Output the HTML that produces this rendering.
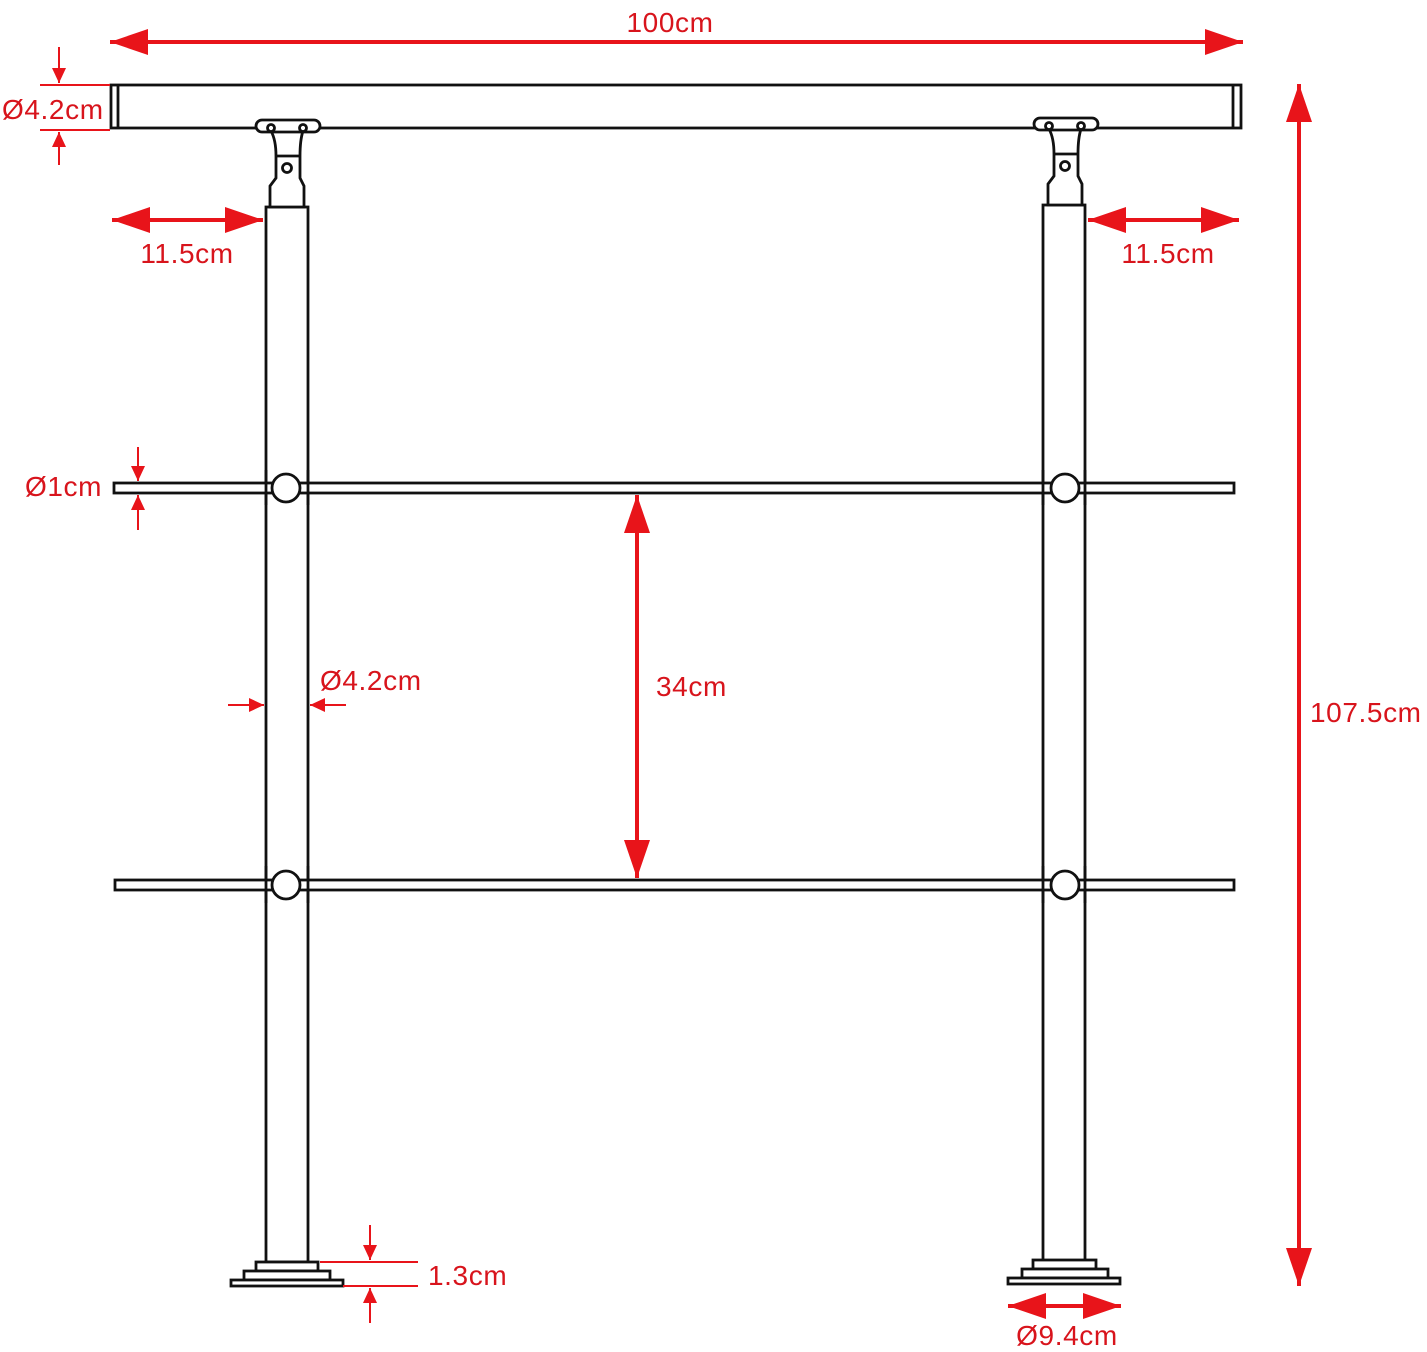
<!DOCTYPE html>
<html><head><meta charset="utf-8"><style>
html,body{margin:0;padding:0;background:#fff;}
svg{display:block;}
text{font-family:"Liberation Sans",sans-serif;fill:#d8141c;font-size:28px;letter-spacing:0.6px;}
</style></head><body>
<svg width="1427" height="1352" viewBox="0 0 1427 1352" xmlns="http://www.w3.org/2000/svg">
<defs>
<marker id="big" markerUnits="userSpaceOnUse" markerWidth="40" markerHeight="26" refX="38" refY="13" orient="auto-start-reverse"><path d="M0,0 L38,13 L0,26 Z" fill="#e8141a"/></marker>
<marker id="sm" markerUnits="userSpaceOnUse" markerWidth="16" markerHeight="14" refX="15" refY="7" orient="auto-start-reverse"><path d="M0,0 L15,7 L0,14 Z" fill="#e8141a"/></marker>
</defs>
<g fill="#fff" stroke="#111" stroke-width="2.8">
<rect x="111" y="85" width="1130" height="43"/>
<line x1="118" y1="85" x2="118" y2="128"/>
<line x1="1233" y1="85" x2="1233" y2="128"/>
<rect x="266" y="207" width="42" height="1055"/>
<rect x="1043" y="205" width="42" height="1057"/>
<rect x="114" y="483" width="1120" height="10"/>
<rect x="115" y="880" width="1119" height="10"/>
<line x1="266" y1="470" x2="266" y2="505"/><line x1="308" y1="470" x2="308" y2="505"/>
<line x1="1043" y1="470" x2="1043" y2="505"/><line x1="1085" y1="470" x2="1085" y2="505"/>
<line x1="266" y1="866" x2="266" y2="903"/><line x1="308" y1="866" x2="308" y2="903"/>
<line x1="1043" y1="866" x2="1043" y2="903"/><line x1="1085" y1="866" x2="1085" y2="903"/>
<circle cx="286" cy="488" r="14"/><circle cx="1065" cy="488" r="14"/>
<circle cx="286" cy="885" r="14"/><circle cx="1065" cy="885" r="14"/>
<g>
<path d="M271,131 Q276,140 276,156 L276,178 L270,186 L270,207 L304,207 L304,186 L300,178 L300,156 Q300,140 303,131 Z"/>
<line x1="276" y1="156" x2="300" y2="156"/>
<circle cx="287" cy="168" r="4.5"/>
<rect x="256" y="120" width="64" height="12" rx="6"/>
<circle cx="271" cy="128" r="3.5"/><circle cx="303" cy="128" r="3.5"/>
</g>
<g transform="translate(778,-2)">
<path d="M271,131 Q276,140 276,156 L276,178 L270,186 L270,207 L304,207 L304,186 L300,178 L300,156 Q300,140 303,131 Z"/>
<line x1="276" y1="156" x2="300" y2="156"/>
<circle cx="287" cy="168" r="4.5"/>
<rect x="256" y="120" width="64" height="12" rx="6"/>
<circle cx="271" cy="128" r="3.5"/><circle cx="303" cy="128" r="3.5"/>
</g>
<rect x="256" y="1262" width="62" height="9"/>
<rect x="244" y="1271" width="86" height="9"/>
<rect x="231" y="1280" width="112" height="6"/>
<rect x="1033" y="1260" width="63" height="9"/>
<rect x="1022" y="1269" width="86" height="9"/>
<rect x="1008" y="1278" width="112" height="6"/>
</g>
<g stroke="#e8141a" fill="none">
<line x1="110" y1="42" x2="1243" y2="42" stroke-width="4" marker-start="url(#big)" marker-end="url(#big)"/>
<line x1="1299" y1="84" x2="1299" y2="1286" stroke-width="4" marker-start="url(#big)" marker-end="url(#big)"/>
<line x1="112" y1="220" x2="263" y2="220" stroke-width="4" marker-start="url(#big)" marker-end="url(#big)"/>
<line x1="1088" y1="220" x2="1239" y2="220" stroke-width="4" marker-start="url(#big)" marker-end="url(#big)"/>
<line x1="637" y1="495" x2="637" y2="878" stroke-width="4" marker-start="url(#big)" marker-end="url(#big)"/>
<line x1="1008" y1="1306" x2="1121" y2="1306" stroke-width="4" marker-start="url(#big)" marker-end="url(#big)"/>
<g stroke-width="2">
<line x1="40" y1="85" x2="110" y2="85"/><line x1="40" y1="130" x2="110" y2="130"/>
<line x1="59" y1="47" x2="59" y2="83" marker-end="url(#sm)"/>
<line x1="59" y1="165" x2="59" y2="132" marker-end="url(#sm)"/>
<line x1="138" y1="447" x2="138" y2="481" marker-end="url(#sm)"/>
<line x1="138" y1="530" x2="138" y2="495" marker-end="url(#sm)"/>
<line x1="228" y1="705" x2="264" y2="705" marker-end="url(#sm)"/>
<line x1="346" y1="705" x2="310" y2="705" marker-end="url(#sm)"/>
<line x1="320" y1="1262" x2="418" y2="1262"/><line x1="343" y1="1286" x2="418" y2="1286"/>
<line x1="370" y1="1225" x2="370" y2="1260" marker-end="url(#sm)"/>
<line x1="370" y1="1323" x2="370" y2="1288" marker-end="url(#sm)"/>
</g>
</g>
<text x="670" y="32" text-anchor="middle">100cm</text>
<text x="2" y="119">Ø4.2cm</text>
<text x="187" y="263" text-anchor="middle">11.5cm</text>
<text x="1168" y="263" text-anchor="middle">11.5cm</text>
<text x="25" y="496">Ø1cm</text>
<text x="320" y="690">Ø4.2cm</text>
<text x="656" y="696">34cm</text>
<text x="1310" y="722">107.5cm</text>
<text x="428" y="1285">1.3cm</text>
<text x="1067" y="1345" text-anchor="middle">Ø9.4cm</text>
</svg>
</body></html>
